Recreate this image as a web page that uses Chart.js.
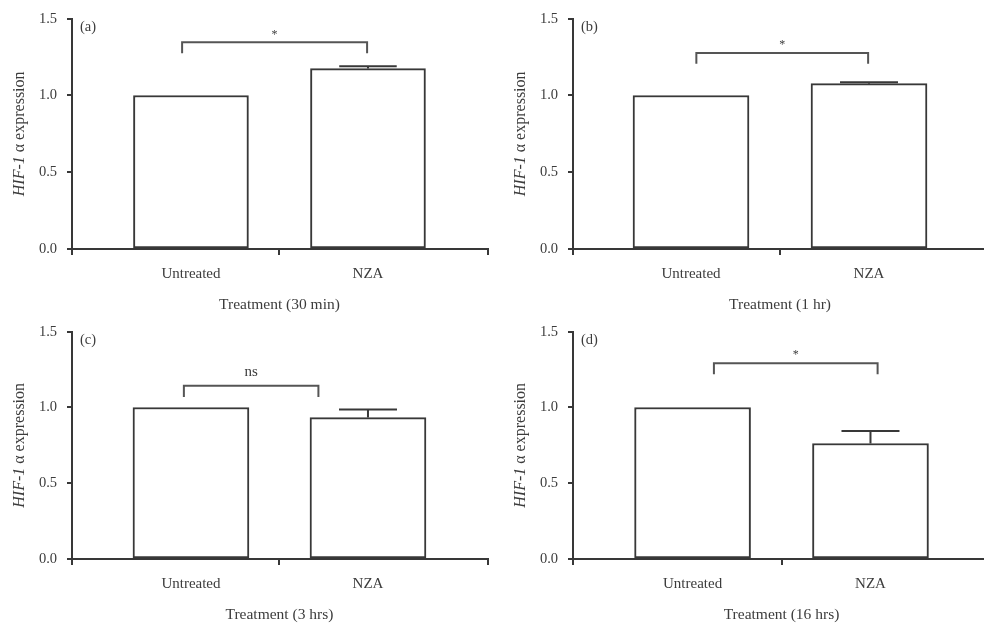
<!DOCTYPE html>
<html><head><meta charset="utf-8">
<script src="https://cdn.jsdelivr.net/npm/chart.js@4.4.1/dist/chart.umd.min.js"></script>
<style>
body{margin:0;background:#fff;width:984px;height:626px;position:relative;overflow:hidden}
canvas{position:absolute;display:block}
</style></head><body>
<canvas id="pa" width="492" height="313" style="left:0;top:0"></canvas>
<canvas id="pb" width="492" height="313" style="left:492px;top:0"></canvas>
<canvas id="pc" width="492" height="313" style="left:0;top:313px"></canvas>
<canvas id="pd" width="492" height="313" style="left:492px;top:313px"></canvas>
<script>
// ---- data ----
const categories = ['Untreated', 'NZA'];
const meanA = [1.0, 1.175];
const errA  = [0, 0.015];
const meanB = [1.0, 1.077];
const errB  = [0, 0.009];
const meanC = [1.0, 0.933];
const errC  = [0, 0.054];
const meanD = [1.0, 0.762];
const errD  = [0, 0.082];
const yTicks = [0.0, 0.5, 1.0, 1.5];
const panelLetters = ['(a)', '(b)', '(c)', '(d)'];
const xTitles = ['Treatment (30 min)', 'Treatment (1 hr)', 'Treatment (3 hrs)', 'Treatment (16 hrs)'];
const sigText = ['*', '*', 'ns', '*'];
const sigLevel = [1.346, 1.277, 1.143, 1.292];
const sigDrop  = [1.275, 1.206, 1.069, 1.220];
const sigFrom  = [-0.05, 0.03, -0.04, 0.12];
const sigTo    = [0.995, 0.995, 0.72, 1.04];

// ---- layout per panel ----
const panels = [
  {id:'pa', mean:meanA, err:errA, left:72, right:488, top:18, bottom:249, xmin:-0.672, xmax:1.678, bw:115, endTick:true},
  {id:'pb', mean:meanB, err:errB, left:81, right:492, top:18, bottom:249, xmin:-0.663, xmax:1.646, bw:116, endTick:false},
  {id:'pc', mean:meanC, err:errC, left:72, right:488, top:15, bottom:246, xmin:-0.672, xmax:1.678, bw:116, endTick:true},
  {id:'pd', mean:meanD, err:errD, left:81, right:492, top:15, bottom:246, xmin:-0.672, xmax:1.638, bw:116, endTick:false},
];

const AX = '#383838', TXT = '#3c3c3c';
const SERIF = '"Liberation Serif", "Times New Roman", serif';

const decor = {
  id: 'decor',
  afterDatasetsDraw(chart, args, o) {
    const ctx = chart.ctx, xs = chart.scales.x, ys = chart.scales.y, ca = chart.chartArea;
    const k = o.k, p = panels[k];
    ctx.save();
    // error bars
    ctx.strokeStyle = AX; ctx.lineWidth = 2;
    p.mean.forEach((m, i) => {
      if (!p.err[i]) return;
      const x = xs.getPixelForValue(i), y0 = ys.getPixelForValue(m), y1 = ys.getPixelForValue(m + p.err[i]);
      ctx.beginPath();
      ctx.moveTo(x, y0); ctx.lineTo(x, y1);
      ctx.moveTo(x - p.bw / 4, y1); ctx.lineTo(x + p.bw / 4, y1);
      ctx.stroke();
    });
    // significance bracket
    const x1 = xs.getPixelForValue(sigFrom[k]), x2 = xs.getPixelForValue(sigTo[k]);
    const yl = ys.getPixelForValue(sigLevel[k]), yd = ys.getPixelForValue(sigDrop[k]);
    ctx.strokeStyle = '#555'; ctx.lineWidth = 2;
    ctx.beginPath();
    ctx.moveTo(x1, yd); ctx.lineTo(x1, yl); ctx.lineTo(x2, yl); ctx.lineTo(x2, yd);
    ctx.stroke();
    ctx.fillStyle = TXT; ctx.textAlign = 'center';
    if (sigText[k] === '*') {
      ctx.font = '12px ' + SERIF; ctx.textBaseline = 'middle';
      ctx.fillText('*', (x1 + x2) / 2, yl - 8);
    } else {
      ctx.font = '15px ' + SERIF; ctx.textBaseline = 'middle';
      ctx.fillText(sigText[k], (x1 + x2) / 2, yl - 14);
    }
    // panel letter
    ctx.font = '14.5px ' + SERIF; ctx.textAlign = 'left'; ctx.textBaseline = 'middle';
    ctx.fillText(panelLetters[k], ca.left + 8, ca.top + 8);
    // x title
    ctx.textAlign = 'center'; ctx.font = '15.5px ' + SERIF;
    ctx.fillText(xTitles[k], xs.getPixelForValue(0.5), ca.bottom + 56);
    // y title (mixed italic)
    ctx.translate(ca.left - 52, (ca.top + ca.bottom) / 2);
    ctx.rotate(-Math.PI / 2);
    const a = 'HIF-1', b = ' \u03B1 expression';
    const F = '16px ' + SERIF;
    ctx.font = 'italic ' + F; const wa = ctx.measureText(a).width;
    ctx.font = F; const wb = ctx.measureText(b).width;
    const start = -(wa + wb) / 2;
    ctx.textAlign = 'left';
    ctx.font = 'italic ' + F; ctx.fillText(a, start, 0);
    ctx.font = F; ctx.fillText(b, start + wa, 0);
    ctx.restore();
  }
};

panels.forEach((p, k) => {
  const W = 492, H = 313;
  new Chart(document.getElementById(p.id), {
    type: 'bar',
    data: {
      datasets: [{
        data: p.mean.map((v, i) => ({x: i, y: v})),
        backgroundColor: '#fff', borderColor: AX, borderWidth: 2, borderSkipped: false,
        barThickness: p.bw
      }]
    },
    options: {
      responsive: false, animation: false, events: [],
      layout: {padding: {left: 0, top: p.top, right: W - p.right, bottom: 0}},
      plugins: {legend: {display: false}, tooltip: {enabled: false}, decor: {k}},
      scales: {
        x: {
          type: 'linear', min: p.xmin, max: p.xmax, offset: false,
          afterBuildTicks: s => { s.ticks = [p.xmin, 0, 0.5, 1, p.xmax].map(v => ({value: v})); },
          afterFit: s => { s.height = H - p.bottom; s.paddingLeft = 0; s.paddingRight = 0; },
          border: {display: true, color: AX, width: 2},
          grid: {offset: false, drawOnChartArea: false, drawTicks: true, tickLength: 6, lineWidth: 2,
                 tickColor: c => {
                   const v = c.tick ? c.tick.value : null;
                   if (v === 0 || v === 1) return 'rgba(0,0,0,0)';
                   if (v === p.xmax && !p.endTick) return 'rgba(0,0,0,0)';
                   return AX;
                 }},
          ticks: {autoSkip: false, maxRotation: 0, padding: 10, color: TXT,
                  font: {family: SERIF, size: 15},
                  callback: v => v === 0 ? categories[0] : (v === 1 ? categories[1] : '')}
        },
        y: {
          min: 0, max: 1.5,
          afterBuildTicks: s => { s.ticks = yTicks.map(v => ({value: v})); },
          afterFit: s => { s.width = p.left; },
          border: {display: true, color: AX, width: 2},
          grid: {drawOnChartArea: false, drawTicks: true, tickLength: 5, lineWidth: 2, tickColor: AX},
          ticks: {padding: 10, color: TXT, font: {family: SERIF, size: 14.5},
                  callback: v => Number(v).toFixed(1)}
        }
      }
    },
    plugins: [decor]
  });
});
</script>
</body></html>
